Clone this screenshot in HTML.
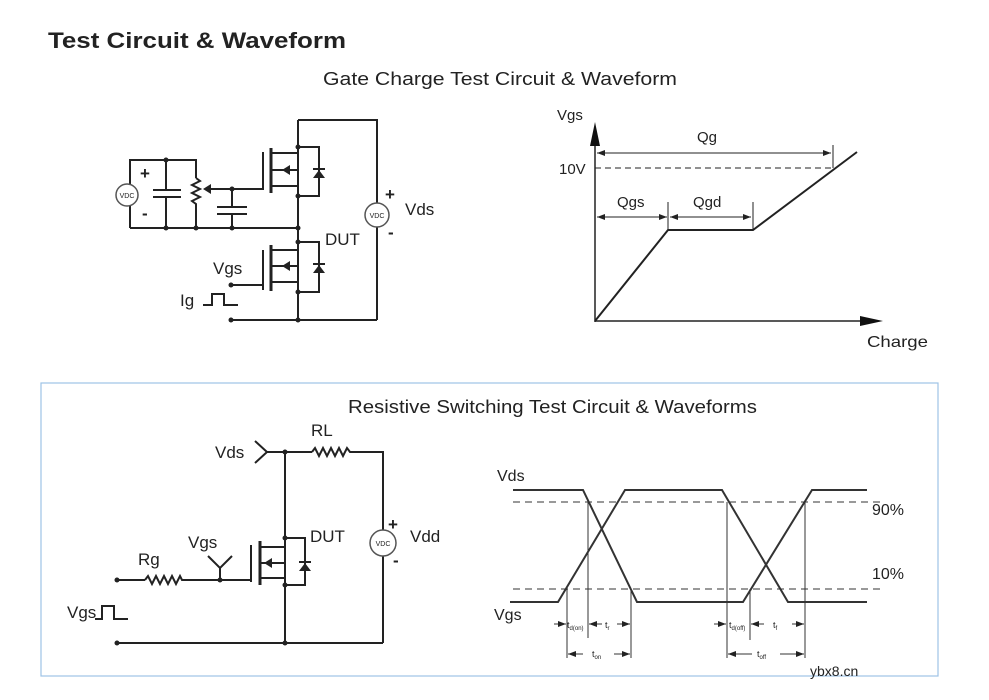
<!DOCTYPE html>
<html><head><meta charset="utf-8"><style>
html,body{margin:0;padding:0;background:#fff;}
svg{display:block;}
text{font-family:"Liberation Sans",sans-serif;fill:#222;}
</style></head><body>
<svg width="989" height="700" viewBox="0 0 989 700" xmlns="http://www.w3.org/2000/svg">
<defs>
<marker id="ah" markerWidth="8" markerHeight="6" refX="8" refY="3" orient="auto"><path d="M0,0 L8,3 L0,6 z" fill="#222"/></marker>
</defs>
<text x="48" y="48" font-size="22" font-weight="bold" fill="#000" textLength="298" lengthAdjust="spacingAndGlyphs">Test Circuit &amp; Waveform</text>
<text x="323" y="85" font-size="18" textLength="354" lengthAdjust="spacingAndGlyphs">Gate Charge Test Circuit &amp; Waveform</text>

<g stroke="#222" stroke-width="2" fill="none">
<polyline points="298,120 377,120 377,203"/>
<line x1="377" y1="227" x2="377" y2="320"/>
<line x1="233" y1="320" x2="377" y2="320"/>
<line x1="298" y1="120" x2="298" y2="320"/>
<line x1="263" y1="152" x2="263" y2="190"/>
<line x1="271" y1="148" x2="271" y2="193" stroke-width="3"/>
<line x1="271" y1="153" x2="298" y2="153"/>
<line x1="271" y1="186" x2="298" y2="186"/>
<polyline points="271,170 298,170 298,186"/>
<polyline points="298,147 319,147 319,196 298,196"/>
<line x1="230" y1="189" x2="263" y2="189"/>
<line x1="263" y1="250" x2="263" y2="290"/>
<line x1="271" y1="245" x2="271" y2="291" stroke-width="3"/>
<line x1="271" y1="250" x2="298" y2="250"/>
<line x1="271" y1="282" x2="298" y2="282"/>
<polyline points="271,266 298,266 298,282"/>
<polyline points="298,242 319,242 319,292 298,292"/>
<line x1="233" y1="285" x2="263" y2="285"/>
<line x1="130" y1="228" x2="298" y2="228"/>
<polyline points="130,185 130,160 196,160 196,178"/>
<line x1="130" y1="205" x2="130" y2="228"/>
<line x1="166" y1="160" x2="166" y2="189"/>
<line x1="153" y1="190" x2="181" y2="190"/>
<line x1="153" y1="197" x2="181" y2="197"/>
<line x1="166" y1="197" x2="166" y2="228"/>
<polyline points="196,178 200,181 192,185 200,189 192,193 200,197 192,201 196,204 196,228"/>
<line x1="230" y1="189" x2="207" y2="189"/>
<line x1="232" y1="189" x2="232" y2="207"/>
<line x1="217" y1="207" x2="247" y2="207"/>
<line x1="217" y1="214" x2="247" y2="214"/>
<line x1="232" y1="214" x2="232" y2="228"/>
<polyline points="203,305 212,305 212,294 224,294 224,305 238,305"/>
</g>
<g fill="#222">
<path d="M282,170 l8,-5 v10z"/><path d="M282,266 l8,-5 v10z"/>
<path d="M313,178 h12 l-6,-8z"/><rect x="313" y="168" width="12" height="2"/>
<path d="M313,273 h12 l-6,-8z"/><rect x="313" y="263" width="12" height="2"/>
<path d="M203,189 l8,-5 v10z"/>
<circle cx="166" cy="160" r="2.5"/><circle cx="166" cy="228" r="2.5"/><circle cx="196" cy="228" r="2.5"/>
<circle cx="232" cy="189" r="2.5"/><circle cx="232" cy="228" r="2.5"/><circle cx="298" cy="228" r="2.5"/>
<circle cx="298" cy="147" r="2.5"/><circle cx="298" cy="196" r="2.5"/><circle cx="298" cy="242" r="2.5"/><circle cx="298" cy="292" r="2.5"/><circle cx="298" cy="320" r="2.5"/>
<circle cx="231" cy="285" r="2.5"/><circle cx="231" cy="320" r="2.5"/>
</g>
<circle cx="127" cy="195" r="11" fill="#fff" stroke="#555" stroke-width="1.5"/>
<text x="127" y="198" font-size="7" text-anchor="middle">VDC</text>
<circle cx="377" cy="215" r="12" fill="#fff" stroke="#555" stroke-width="1.5"/>
<text x="377" y="218" font-size="7" text-anchor="middle">VDC</text>
<text x="140" y="179" font-size="17" font-weight="bold">+</text>
<text x="142" y="219" font-size="17" font-weight="bold">-</text>
<text x="385" y="200" font-size="17" font-weight="bold">+</text>
<text x="388" y="238" font-size="17" font-weight="bold">-</text>
<text x="405" y="215" font-size="17">Vds</text>
<text x="325" y="245" font-size="17">DUT</text>
<text x="213" y="274" font-size="17">Vgs</text>
<text x="180" y="306" font-size="17">Ig</text>

<g stroke="#222" fill="none">
<line x1="595" y1="140" x2="595" y2="322" stroke-width="1.5"/>
<line x1="595" y1="321" x2="862" y2="321" stroke-width="1.5"/>
<polyline points="595,321 668,230 753,230 857,152" stroke-width="2"/>
<line x1="595" y1="168" x2="832" y2="168" stroke-dasharray="6,4" stroke-width="1"/>
<line x1="833" y1="145" x2="833" y2="168" stroke-width="1"/>
<line x1="668" y1="202" x2="668" y2="230" stroke-width="1"/>
<line x1="753" y1="202" x2="753" y2="230" stroke-width="1"/>
<line x1="600" y1="153" x2="831" y2="153" stroke-width="1" marker-end="url(#ah)"/>
<line x1="830" y1="153" x2="597" y2="153" stroke-width="1" marker-end="url(#ah)"/>
<line x1="597" y1="217" x2="667" y2="217" stroke-width="1" marker-end="url(#ah)"/>
<line x1="666" y1="217" x2="597" y2="217" stroke-width="1" marker-end="url(#ah)"/>
<line x1="670" y1="217" x2="751" y2="217" stroke-width="1" marker-end="url(#ah)"/>
<line x1="750" y1="217" x2="670" y2="217" stroke-width="1" marker-end="url(#ah)"/>
</g>
<path d="M590,146 L595,122 L600,146z" fill="#111"/>
<path d="M860,316 L883,321 L860,326z" fill="#111"/>
<text x="557" y="120" font-size="15">Vgs</text>
<text x="559" y="174" font-size="15">10V</text>
<text x="697" y="142" font-size="15">Qg</text>
<text x="617" y="207" font-size="15">Qgs</text>
<text x="693" y="207" font-size="15">Qgd</text>
<text x="867" y="347" font-size="16" textLength="61" lengthAdjust="spacingAndGlyphs">Charge</text>

<rect x="41" y="383" width="897" height="293" fill="none" stroke="#9ec3e6" stroke-width="1.2"/>
<text x="348" y="413" font-size="18" textLength="409" lengthAdjust="spacingAndGlyphs">Resistive Switching Test Circuit &amp; Waveforms</text>

<g stroke="#222" stroke-width="2" fill="none">
<polyline points="255,441 267,452 255,463"/>
<line x1="267" y1="452" x2="312" y2="452"/>
<polyline points="312,452 315,448 319,456 323,448 327,456 331,448 335,456 339,448 343,456 347,448 350,452 383,452 383,530"/>
<line x1="383" y1="556" x2="383" y2="643"/>
<line x1="117" y1="643" x2="383" y2="643"/>
<line x1="285" y1="452" x2="285" y2="643"/>
<line x1="251" y1="545" x2="251" y2="582"/>
<line x1="260" y1="541" x2="260" y2="585" stroke-width="3"/>
<line x1="260" y1="547" x2="285" y2="547"/>
<line x1="260" y1="578" x2="285" y2="578"/>
<polyline points="260,563 285,563 285,578"/>
<polyline points="285,538 305,538 305,585 285,585"/>
<line x1="117" y1="580" x2="145" y2="580"/>
<polyline points="145,580 148,576 152,584 156,576 160,584 164,576 168,584 172,576 176,584 180,576 182,580 251,580"/>
<polyline points="208,556 220,568 232,556"/>
<line x1="220" y1="568" x2="220" y2="580"/>
<polyline points="95,619 102,619 102,606 114,606 114,619 128,619"/>
</g>
<g fill="#222">
<path d="M264,563 l8,-5 v10z"/>
<path d="M299,571 h12 l-6,-8z"/><rect x="299" y="561" width="12" height="2"/>
<circle cx="285" cy="452" r="2.5"/><circle cx="285" cy="538" r="2.5"/><circle cx="285" cy="585" r="2.5"/><circle cx="285" cy="643" r="2.5"/>
<circle cx="220" cy="580" r="2.5"/><circle cx="117" cy="580" r="2.5"/><circle cx="117" cy="643" r="2.5"/>
</g>
<circle cx="383" cy="543" r="13" fill="#fff" stroke="#555" stroke-width="1.5"/>
<text x="383" y="546" font-size="7" text-anchor="middle">VDC</text>
<text x="215" y="458" font-size="17">Vds</text>
<text x="311" y="436" font-size="17">RL</text>
<text x="310" y="542" font-size="17">DUT</text>
<text x="388" y="530" font-size="17" font-weight="bold">+</text>
<text x="393" y="566" font-size="17" font-weight="bold">-</text>
<text x="410" y="542" font-size="17">Vdd</text>
<text x="188" y="548" font-size="17">Vgs</text>
<text x="138" y="565" font-size="17">Rg</text>
<text x="67" y="618" font-size="17">Vgs</text>

<g stroke="#333" fill="none">
<line x1="513" y1="502" x2="880" y2="502" stroke-dasharray="7,5" stroke-width="1"/>
<line x1="513" y1="589" x2="880" y2="589" stroke-dasharray="7,5" stroke-width="1"/>
<polyline points="513,490 583,490 637,602 743,602 812,490 867,490" stroke-width="2"/>
<polyline points="510,602 558,602 625,490 722,490 788,602 867,602" stroke-width="2"/>
<g stroke-width="1">
<line x1="567" y1="589" x2="567" y2="658"/>
<line x1="588" y1="502" x2="588" y2="638"/>
<line x1="631" y1="589" x2="631" y2="658"/>
<line x1="727" y1="502" x2="727" y2="658"/>
<line x1="750" y1="589" x2="750" y2="640"/>
<line x1="805" y1="502" x2="805" y2="658"/>
<line x1="554" y1="624" x2="566" y2="624" marker-end="url(#ah)"/>
<line x1="602" y1="624" x2="589" y2="624" marker-end="url(#ah)"/>
<line x1="617" y1="624" x2="630" y2="624" marker-end="url(#ah)"/>
<line x1="714" y1="624" x2="726" y2="624" marker-end="url(#ah)"/>
<line x1="764" y1="624" x2="751" y2="624" marker-end="url(#ah)"/>
<line x1="792" y1="624" x2="804" y2="624" marker-end="url(#ah)"/>
<line x1="583" y1="654" x2="568" y2="654" marker-end="url(#ah)"/>
<line x1="614" y1="654" x2="630" y2="654" marker-end="url(#ah)"/>
<line x1="752" y1="654" x2="728" y2="654" marker-end="url(#ah)"/>
<line x1="780" y1="654" x2="804" y2="654" marker-end="url(#ah)"/>
</g>
</g>
<text x="567" y="628" font-size="9">t<tspan font-size="6" dy="2">d(on)</tspan></text>
<text x="605" y="628" font-size="9">t<tspan font-size="6" dy="2">r</tspan></text>
<text x="729" y="628" font-size="9">t<tspan font-size="6" dy="2">d(off)</tspan></text>
<text x="773" y="628" font-size="9">t<tspan font-size="6" dy="2">f</tspan></text>
<text x="592" y="657" font-size="9">t<tspan font-size="6" dy="2">on</tspan></text>
<text x="757" y="657" font-size="9">t<tspan font-size="6" dy="2">off</tspan></text>
<text x="497" y="481" font-size="16">Vds</text>
<text x="494" y="620" font-size="16">Vgs</text>
<text x="872" y="515" font-size="16">90%</text>
<text x="872" y="579" font-size="16">10%</text>
<text x="810" y="676" font-size="14" font-family="Liberation Mono,monospace">ybx8.cn</text>
</svg>
</body></html>
